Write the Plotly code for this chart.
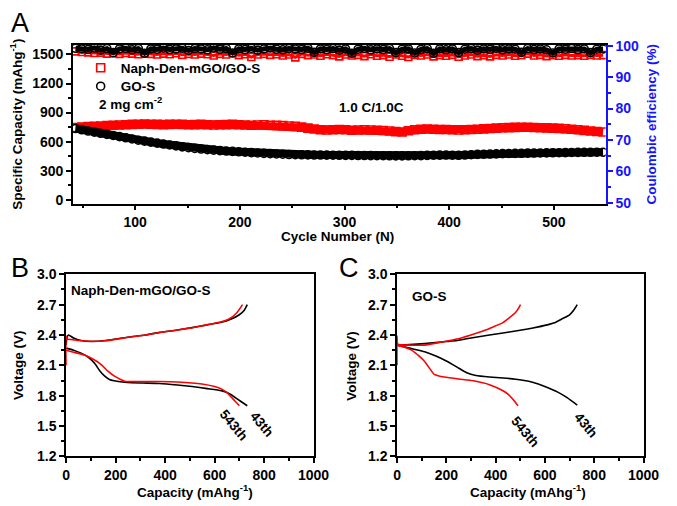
import plotly.graph_objects as go

W, H = 677, 506

# ---------------- Panel A data (every 6th cycle) ----------------
cycles = list(range(43, 548, 6))

red_cap = [745, 750, 755, 758, 762, 765, 770, 772, 775, 778,
           780, 782, 780, 778, 776, 778, 780, 778, 775, 776,
           778, 775, 772, 774, 776, 778, 775, 772, 770, 772,
           775, 770, 768, 765, 762, 758, 750, 740, 730, 722,
           720, 722, 725, 722, 718, 720, 722, 720, 718, 715,
           710, 703, 700, 712, 722, 728, 730, 728, 726, 725,
           722, 720, 722, 725, 728, 732, 736, 740, 743, 745,
           747, 748, 748, 746, 744, 742, 740, 737, 733, 728,
           722, 716, 710, 705, 700]

black_cap = [735, 722, 710, 698, 686, 675, 664, 652, 640, 628,
             615, 605, 595, 585, 575, 566, 556, 546, 538, 530,
             524, 518, 512, 507, 503, 499, 495, 491, 487, 483,
             479, 476, 473, 470, 467, 465, 464, 463, 462, 462,
             461, 460, 459, 458, 458, 457, 457, 456, 455, 455,
             454, 453, 453, 454, 455, 456, 458, 460, 461, 462,
             460, 459, 462, 465, 468, 470, 472, 474, 476, 478,
             479, 480, 481, 482, 483, 484, 485, 486, 487, 488,
             489, 490, 490, 491, 491]

black_ce = [99.2, 99.0, 98.8, 99.3, 98.6, 99.1, 97.8, 99.0, 99.2, 98.7,
            99.1, 97.6, 99.0, 98.9, 99.3, 98.8, 99.0, 99.2, 98.5, 99.1,
            99.0, 98.7, 99.3, 98.9, 99.1, 97.7, 99.0, 98.8, 99.2, 98.6,
            99.0, 99.3, 98.9, 98.7, 99.1, 99.0, 98.8, 99.2, 97.9, 99.0,
            98.8, 99.1, 98.6, 99.0, 97.6, 98.9, 99.2, 98.7, 99.0, 98.8,
            99.1, 97.8, 98.9, 99.0, 97.7, 98.8, 99.1, 97.6, 99.0, 98.7,
            99.0, 97.8, 98.9, 99.1, 98.6, 99.0, 98.8, 99.2, 98.7, 99.0,
            98.9, 97.9, 99.1, 98.8, 99.0, 98.7, 97.7, 99.0, 98.9, 99.1,
            98.8, 99.0, 97.8, 98.9, 99.0]

red_ce = [98.2, 98.0, 97.9, 97.7, 97.8, 97.5, 97.6, 97.4, 97.7, 97.5,
          97.3, 97.6, 97.4, 97.2, 97.5, 97.3, 97.6, 97.1, 97.4, 97.2,
          97.5, 97.3, 96.9, 97.4, 97.2, 97.6, 97.0, 97.3, 96.4, 97.2,
          97.4, 97.1, 97.3, 96.9, 97.2, 96.3, 97.4, 97.0, 97.2, 96.8,
          97.3, 97.0, 96.6, 97.2, 96.9, 97.1, 96.7, 97.3, 96.8, 97.0,
          96.5, 97.2, 96.8, 96.4, 97.1, 96.9, 97.2, 96.6, 97.0, 96.8,
          97.1, 96.5, 96.9, 97.2, 96.7, 97.0, 96.6, 97.1, 96.9, 97.2,
          96.8, 97.0, 97.5, 96.9, 97.1, 96.7, 97.0, 96.8, 97.1, 96.9,
          97.0, 96.8, 97.1, 96.9, 97.0]

# ---------------- Panel B data ----------------
B_black_chg_cap = [0, 4, 10, 30, 60, 102, 160, 247, 320, 378, 450, 509, 570, 627, 665, 700, 720, 732]
B_black_chg_v = [2.30, 2.38, 2.40, 2.37, 2.345, 2.336, 2.345, 2.378, 2.40, 2.426, 2.45, 2.473, 2.50, 2.525, 2.555, 2.60, 2.645, 2.70]
B_red_chg_cap = [0, 0, 5, 20, 50, 100, 160, 247, 320, 378, 450, 509, 570, 627, 660, 690, 713]
B_red_chg_v = [2.10, 2.39, 2.36, 2.355, 2.345, 2.338, 2.343, 2.375, 2.40, 2.425, 2.45, 2.472, 2.50, 2.53, 2.56, 2.62, 2.70]
B_black_dis_cap = [0, 30, 63, 90, 115, 135, 155, 175, 194, 247, 310, 378, 450, 509, 570, 627, 660, 680, 705, 732]
B_black_dis_v = [2.27, 2.25, 2.218, 2.18, 2.12, 2.05, 1.995, 1.96, 1.947, 1.93, 1.925, 1.92, 1.905, 1.89, 1.87, 1.85, 1.82, 1.787, 1.745, 1.70]
B_red_dis_cap = [0, 30, 76, 110, 142, 170, 194, 220, 240, 300, 378, 450, 549, 600, 627, 650, 667, 685, 700]
B_red_dis_v = [2.25, 2.23, 2.20, 2.16, 2.107, 2.04, 1.995, 1.96, 1.94, 1.94, 1.94, 1.935, 1.915, 1.89, 1.867, 1.83, 1.787, 1.74, 1.70]

# ---------------- Panel C data ----------------
C_black_chg_cap = [0, 50, 112, 200, 244, 300, 375, 430, 481, 530, 573, 610, 639, 670, 700, 718, 731]
C_black_chg_v = [2.30, 2.305, 2.315, 2.335, 2.346, 2.37, 2.40, 2.42, 2.44, 2.46, 2.48, 2.50, 2.52, 2.56, 2.60, 2.65, 2.70]
C_red_chg_cap = [0, 0, 3, 50, 112, 180, 244, 300, 349, 390, 428, 455, 480, 492, 501]
C_red_chg_v = [2.10, 2.39, 2.31, 2.30, 2.30, 2.33, 2.36, 2.40, 2.44, 2.48, 2.52, 2.57, 2.62, 2.66, 2.70]
C_black_dis_cap = [0, 50, 112, 160, 204, 245, 283, 320, 375, 430, 481, 530, 573, 610, 652, 690, 731]
C_black_dis_v = [2.30, 2.27, 2.234, 2.19, 2.138, 2.08, 2.026, 2.00, 1.985, 1.975, 1.963, 1.945, 1.915, 1.88, 1.835, 1.78, 1.707]
C_red_dis_cap = [0, 30, 59, 90, 112, 135, 151, 170, 191, 250, 310, 375, 428, 450, 468, 480, 491]
C_red_dis_v = [2.30, 2.28, 2.25, 2.19, 2.138, 2.06, 2.01, 1.995, 1.985, 1.965, 1.947, 1.909, 1.851, 1.815, 1.77, 1.735, 1.70]

RED = "#ff0000"
BLK = "#000000"
BLUE = "#1414ff"
FAM = "Arial, 'Liberation Sans', sans-serif"


def px_x(p):
    return p / W


def px_y(p):
    return 1 - p / H


fig = go.Figure()

# ---- Panel A traces ----
fig.add_trace(go.Scatter(x=cycles, y=red_ce, xaxis="x", yaxis="y2", mode="lines",
                         line=dict(color=RED, width=3), showlegend=False, hoverinfo="skip"))
fig.add_trace(go.Scatter(x=cycles, y=red_ce, xaxis="x", yaxis="y2", mode="markers",
                         marker=dict(symbol="square-open", size=7, color=RED, line=dict(width=1.6)),
                         showlegend=False))
fig.add_trace(go.Scatter(x=cycles, y=black_ce, xaxis="x", yaxis="y2", mode="lines",
                         line=dict(color=BLK, width=5), showlegend=False, hoverinfo="skip"))
fig.add_trace(go.Scatter(x=cycles, y=black_ce, xaxis="x", yaxis="y2", mode="markers",
                         marker=dict(symbol="circle-open", size=8, color=BLK, line=dict(width=1.6)),
                         showlegend=False))
fig.add_trace(go.Scatter(x=cycles, y=red_cap, xaxis="x", yaxis="y", mode="lines",
                         line=dict(color=RED, width=8), showlegend=False, hoverinfo="skip"))
fig.add_trace(go.Scatter(x=cycles, y=red_cap, xaxis="x", yaxis="y", mode="markers",
                         name="Naph-Den-mGO/GO-S", legend="legend",
                         marker=dict(symbol="square-open", size=8, color=RED, line=dict(width=1.6))))
fig.add_trace(go.Scatter(x=cycles, y=black_cap, xaxis="x", yaxis="y", mode="lines",
                         line=dict(color=BLK, width=8), showlegend=False, hoverinfo="skip"))
fig.add_trace(go.Scatter(x=cycles, y=black_cap, xaxis="x", yaxis="y", mode="markers",
                         name="GO-S", legend="legend2",
                         marker=dict(symbol="circle-open", size=8, color=BLK, line=dict(width=1.6))))

# ---- Panel B / C traces ----
curve_line = dict(width=1.6, shape="spline", smoothing=0.5)
for xs, ys, col, xa, ya in [
    (B_black_chg_cap, B_black_chg_v, BLK, "x2", "y3"),
    (B_black_dis_cap, B_black_dis_v, BLK, "x2", "y3"),
    (B_red_chg_cap, B_red_chg_v, RED, "x2", "y3"),
    (B_red_dis_cap, B_red_dis_v, RED, "x2", "y3"),
    (C_black_chg_cap, C_black_chg_v, BLK, "x3", "y4"),
    (C_black_dis_cap, C_black_dis_v, BLK, "x3", "y4"),
    (C_red_chg_cap, C_red_chg_v, RED, "x3", "y4"),
    (C_red_dis_cap, C_red_dis_v, RED, "x3", "y4"),
]:
    fig.add_trace(go.Scatter(x=xs, y=ys, xaxis=xa, yaxis=ya, mode="lines",
                             line=dict(color=col, **curve_line), showlegend=False))

tickfont = dict(family=FAM, size=14, color="black", weight="bold")
common = dict(showline=True, linecolor="black", linewidth=1.5, ticks="outside",
              ticklen=5, tickwidth=1.5, tickcolor="black", showgrid=False, zeroline=False,
              tickfont=tickfont)
legfont = dict(family=FAM, size=13.5, color="black", weight="bold")

layout = dict(
    width=W, height=H, margin=dict(l=0, r=0, t=0, b=0),
    paper_bgcolor="white", plot_bgcolor="white",
    showlegend=True,
    legend=dict(x=px_x(79), y=px_y(62), xanchor="left", yanchor="middle",
                font=legfont, bgcolor="rgba(0,0,0,0)", itemwidth=30),
    legend2=dict(x=px_x(79), y=px_y(81), xanchor="left", yanchor="middle",
                 font=legfont, bgcolor="rgba(0,0,0,0)", itemwidth=30),
    xaxis=dict(domain=[px_x(71), px_x(620)], range=[40.5, 549.5], anchor="y",
               tickvals=[100, 200, 300, 400, 500], mirror=True,
               minor=dict(dtick=50, tick0=0, ticklen=3, tickwidth=1.5, ticks="outside", tickcolor="black"),
               **common),
    yaxis=dict(domain=[px_y(202), px_y(38)], range=[-40, 1600], anchor="x",
               tickvals=[0, 300, 600, 900, 1200, 1500],
               minor=dict(dtick=150, tick0=0, ticklen=3, tickwidth=1.5, ticks="outside", tickcolor="black"),
               **common),
    yaxis2=dict(domain=[px_y(202), px_y(38)], range=[49.7, 100.3], anchor="x", overlaying="y",
                side="right", showline=True, linecolor=BLUE, linewidth=2, ticks="outside",
                ticklen=5, tickwidth=1.5, tickcolor=BLUE, showgrid=False, zeroline=False,
                tickvals=[50, 60, 70, 80, 90, 100],
                minor=dict(dtick=5, tick0=0, ticklen=3, tickwidth=1.5, ticks="outside", tickcolor=BLUE),
                tickfont=dict(family=FAM, size=14, color=BLUE, weight="bold")),
    xaxis2=dict(domain=[px_x(64), px_x(319)], range=[0, 1000], anchor="y3", mirror=True,
                tickvals=[0, 200, 400, 600, 800, 1000],
                minor=dict(dtick=100, tick0=0, ticklen=3, tickwidth=1.5, ticks="outside", tickcolor="black"),
                **common),
    yaxis3=dict(domain=[px_y(463), px_y(275)], range=[1.2, 3.0], anchor="x2", mirror=True,
                tickvals=[1.2, 1.5, 1.8, 2.1, 2.4, 2.7, 3.0], tickformat=".1f",
                minor=dict(dtick=0.15, tick0=1.2, ticklen=3, tickwidth=1.5, ticks="outside", tickcolor="black"),
                **common),
    xaxis3=dict(domain=[px_x(405), px_x(659)], range=[0, 1000], anchor="y4", mirror=True,
                tickvals=[0, 200, 400, 600, 800, 1000],
                minor=dict(dtick=100, tick0=0, ticklen=3, tickwidth=1.5, ticks="outside", tickcolor="black"),
                **common),
    yaxis4=dict(domain=[px_y(463), px_y(275)], range=[1.2, 3.0], anchor="x3", mirror=True,
                tickvals=[1.2, 1.5, 1.8, 2.1, 2.4, 2.7, 3.0], tickformat=".1f",
                minor=dict(dtick=0.15, tick0=1.2, ticklen=3, tickwidth=1.5, ticks="outside", tickcolor="black"),
                **common),
)
fig.update_layout(**layout)


def ann(text, x, y, size=13.5, color="black", angle=0, bold=True, xanchor="center"):
    fig.add_annotation(text=text, x=px_x(x), y=px_y(y), xref="paper", yref="paper",
                       showarrow=False, textangle=angle, xanchor=xanchor, yanchor="middle",
                       font=dict(family=FAM, size=size, color=color,
                                 weight="bold" if bold else "normal"))


# panel letters
ann("A", 17, 16, size=27, bold=False)
ann("B", 16, 268, size=27, bold=False)
ann("C", 355, 268, size=27, bold=False)

# panel A texts
ann("Specific Capacity (mAhg<sup>-1</sup>)", 13, 120, angle=-90)
ann("Coulombic efficiency (%)", 667, 120, color=BLUE, angle=-90)
ann("Cycle Number (N)", 344, 236)
ann("2 mg cm<sup>-2</sup>", 96, 98, xanchor="left")
ann("1.0 C/1.0C", 379, 103)

# panel B texts
ann("Naph-Den-mGO/GO-S", 67, 292, xanchor="left")
ann("Voltage (V)", 15, 369, angle=-90)
ann("Capacity (mAhg<sup>-1</sup>)", 197, 499)
ann("543th", 237, 431, angle=50)
ann("43th", 266, 430, angle=50)

# panel C texts
ann("GO-S", 438, 298)
ann("Voltage (V)", 358, 369, angle=-90)
ann("Capacity (mAhg<sup>-1</sup>)", 540, 499)
ann("543th", 537, 437, angle=50)
ann("43th", 600, 431, angle=50)

fig.write_html("out.html", config={"displayModeBar": False},
               post_script="document.body.style.margin='0';document.body.style.padding='0';")
